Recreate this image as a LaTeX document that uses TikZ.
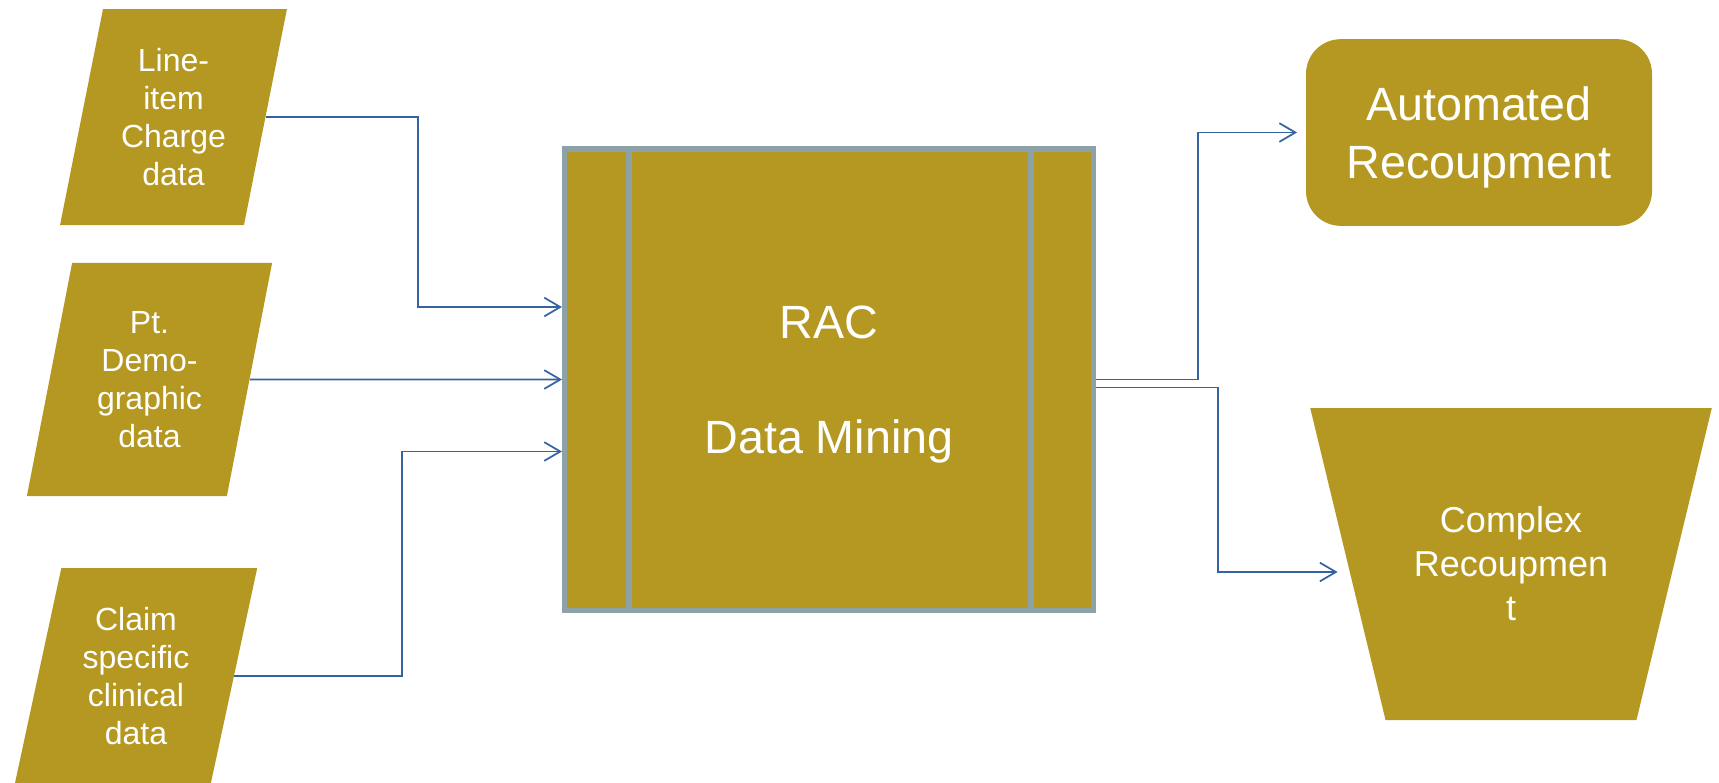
\documentclass[tikz,border=0pt]{standalone}
\usepackage{fontspec}
\setmainfont{Liberation Sans}
\usepackage{tikz}
\usetikzlibrary{shapes.geometric,arrows.meta,calc}

\definecolor{racgold}{RGB}{181,152,34}
\definecolor{racgrey}{RGB}{140,162,166}
\definecolor{racblue}{RGB}{52,99,160}

\tikzset{
  datain/.style={trapezium, trapezium stretches=true, fill=racgold, text=white, align=center,
    inner sep=0pt, font=\fontsize{24}{28.5}\selectfont},
  flow/.style={draw=racblue, line width=1.3pt, -{Straight Barb[length=12pt,width=14pt]}}
}

\begin{document}
\begin{tikzpicture}[x=0.75pt,y=0.75pt,yscale=-1,xscale=1]
\useasboundingbox (0,0) rectangle (1719,782);

% Input data
\node[datain, trapezium left angle=76.9, trapezium right angle=103.1,
  minimum width=170.25pt, minimum height=162pt] (lic) at (173.5,117) {Line-\\item\\Charge\\data};
\node[datain, trapezium left angle=77.3, trapezium right angle=102.7,
  minimum width=184pt, minimum height=175pt] (demo) at (149.5,379.5) {Pt.\\Demo-\\graphic\\data};
\node[datain, trapezium left angle=76.4, trapezium right angle=103.6,
  minimum width=182pt, minimum height=162pt] (clin) at (136,676) {Claim\\specific\\clinical\\data};

% RAC box
\node[draw=racgrey, line width=4pt, fill=racgold, minimum width=396.5pt, minimum height=346pt,
  text=white, align=center, text depth=0pt, font=\fontsize{35}{43}\selectfont] (dm) at (829,379.5) {RAC\\~\\Data Mining};
\draw[racgrey, line width=4pt] ($(dm.north west)+(67,0)$) -- ($(dm.south west)+(67,0)$);
\draw[racgrey, line width=4pt] ($(dm.north east)+(-65,0)$) -- ($(dm.south east)+(-65,0)$);

% Outcomes
\node[fill=racgold, rounded corners=26pt, minimum width=259.5pt, minimum height=140pt,
  text=white, align=center, text depth=0pt, font=\fontsize{35}{43.5}\selectfont] (auto) at (1479,132.5) {Automated\\Recoupment};
\node[trapezium, trapezium left angle=117, trapezium right angle=117, trapezium stretches=true,
  minimum width=301.5pt, minimum height=234pt, fill=racgold, text=white, align=center, inner sep=0pt,
  font=\fontsize{27}{33}\selectfont] (cplx) at (1511,564) {Complex\\Recoupmen\\t};

% Connectors
\draw[flow] (lic.east) -| ($(dm.west)+(-144,-72.5)$) -- ($(dm.west)+(0,-72.5)$);
\draw[flow] (demo.east) -- (dm.west);
\draw[flow] (clin.east) -| ($(dm.west)+(-160,72)$) -- ($(dm.west)+(0,72)$);
\draw[flow, shorten >=6.5pt] (dm.east) -- ++(102,0) |- (auto.west);
\draw[flow, shorten >=7.5pt] ($(dm.east)+(0,8)$) -- ++(122,0) |- ($(cplx.west)+(0,8)$);
\end{tikzpicture}
\end{document}
